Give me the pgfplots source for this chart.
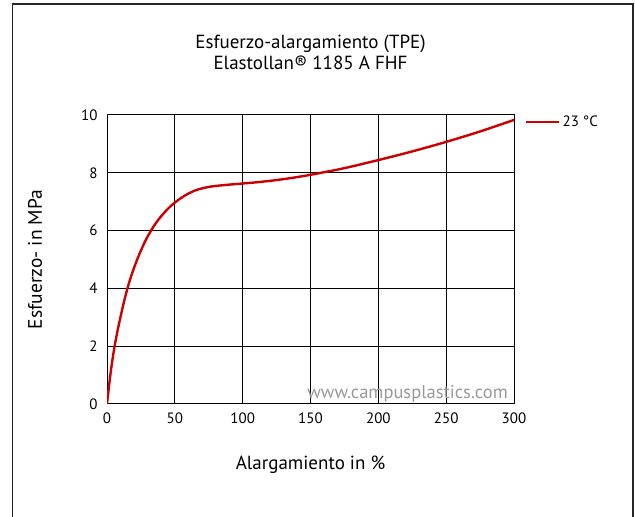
\documentclass[border=0pt]{standalone}
\usepackage{pgfplots}
\pgfplotsset{compat=1.18}
\usepackage{fontspec}
\setmainfont{PT Sans}
\definecolor{curvered}{HTML}{CC0000}
\definecolor{wm}{HTML}{9A9A9A}
\begin{document}
\begin{tikzpicture}[x=1bp,y=1bp]
\path[use as bounding box] (0,0) rectangle (635,517);
\draw[line width=1.3bp, black!85] (12.5,-3) -- (12.5,513) -- (633,513) -- (633,-3);
\begin{axis}[
  at={(107bp,113bp)}, anchor=south west,
  scale only axis, width=407bp, height=289bp,
  xmin=0, xmax=300, ymin=0, ymax=10,
  xtick={0,50,...,300}, ytick={0,2,...,10},
  grid=major, major grid style={black, line width=1bp},
  axis line style={black, line width=1bp},
  major tick length=0pt,
  tick label style={font=\fontsize{15bp}{17bp}\selectfont},
  /pgf/number format/assume math mode=true,
  xticklabel style={yshift=-5bp},
  yticklabel style={xshift=-6bp},
  title={Esfuerzo-alargamiento (TPE)\\Elastollan® 1185 A FHF},
  title style={at={(axis description cs:0.5,1)}, anchor=center, yshift=57bp, align=center, font=\fontsize{19bp}{21bp}\selectfont},
  xlabel={Alargamiento in \%},
  xlabel style={at={(axis description cs:0.5,0)}, anchor=center, yshift=-61bp, font=\fontsize{19bp}{21bp}\selectfont},
  ylabel={Esfuerzo- in MPa},
  ylabel style={at={(axis description cs:0,0.5)}, anchor=center, yshift=72bp, font=\fontsize{19.5bp}{21bp}\selectfont},
  legend style={draw=none, fill=none, at={(axis description cs:1,1)}, anchor=west, xshift=8bp, yshift=-7bp, font=\fontsize{15bp}{17bp}\selectfont},
  legend image code/.code={\draw[#1] (0bp,0bp) -- (24bp,0bp); \path (0bp,0bp) -- (33bp,0bp);},
]
\addplot[curvered, line width=2.4bp, smooth, tension=0.5] coordinates {
(0,0) (2.5,1.02) (5,1.83) (7.5,2.47) (10,3.02) (12.5,3.53) (15,3.99) (17.5,4.38) (20,4.72) (22.5,5.03) (25,5.31) (27.5,5.57) (30,5.80) (33,6.04) (36,6.26) (40,6.50) (45,6.76) (50,6.97) (55,7.14) (60,7.28) (65,7.39) (70,7.46) (75,7.51) (80,7.545) (90,7.59) (100,7.63) (110,7.67) (120,7.72) (130,7.78) (140,7.85) (150,7.93) (160,8.02) (175,8.16) (200,8.44) (225,8.74) (250,9.07) (275,9.43) (300,9.83)
};
\addlegendentry{23 °C}
\node[anchor=east, text=wm, font=\fontsize{18.5bp}{20bp}\selectfont, inner sep=0pt] at (rel axis cs:1,0) [xshift=-6bp, yshift=10bp] {www.campusplastics.com};
\end{axis}
\end{tikzpicture}
\end{document}
